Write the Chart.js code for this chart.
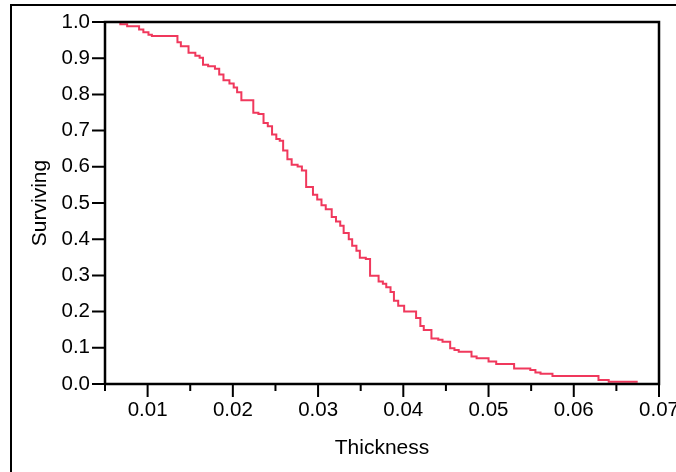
<!DOCTYPE html>
<html><head><meta charset="utf-8">
<script src="https://cdn.jsdelivr.net/npm/chart.js@4/dist/chart.umd.min.js"></script>
<style>html,body{margin:0;padding:0;background:#fff;overflow:hidden;}</style>
</head><body>
<canvas id="c" width="676" height="472"></canvas>
<script>
const thickness = [0.0064, 0.0068, 0.0076, 0.0090, 0.0095, 0.0101, 0.0105, 0.0135, 0.0139, 0.0148,
  0.0156, 0.0161, 0.0165, 0.0171, 0.0179, 0.0184, 0.0189, 0.0196, 0.0201, 0.0205,
  0.0210, 0.0224, 0.0230, 0.0236, 0.0241, 0.0246, 0.0251, 0.0255, 0.0259, 0.0264,
  0.0269, 0.0276, 0.0281, 0.0286, 0.0294, 0.0299, 0.0304, 0.0309, 0.0316, 0.0321,
  0.0326, 0.0330, 0.0336, 0.0340, 0.0345, 0.0349, 0.0356, 0.0361, 0.0371, 0.0376,
  0.0380, 0.0385, 0.0389, 0.0394, 0.0401, 0.0415, 0.0420, 0.0424, 0.0433, 0.0441,
  0.0446, 0.0455, 0.0460, 0.0465, 0.0480, 0.0486, 0.0500, 0.0509, 0.0530, 0.0549,
  0.0555, 0.0561, 0.0575, 0.0629, 0.0641, 0.0675];
const surviving = [1.000, 0.994, 0.988, 0.979, 0.972, 0.965, 0.961, 0.944, 0.933, 0.915,
  0.907, 0.901, 0.882, 0.878, 0.871, 0.855, 0.839, 0.830, 0.819, 0.806,
  0.784, 0.749, 0.746, 0.721, 0.712, 0.689, 0.677, 0.672, 0.645, 0.621,
  0.606, 0.601, 0.590, 0.544, 0.523, 0.510, 0.494, 0.483, 0.461, 0.449,
  0.437, 0.417, 0.400, 0.382, 0.368, 0.349, 0.345, 0.299, 0.283, 0.277,
  0.267, 0.254, 0.230, 0.216, 0.200, 0.182, 0.160, 0.149, 0.126, 0.122,
  0.117, 0.099, 0.094, 0.089, 0.076, 0.071, 0.062, 0.055, 0.043, 0.039,
  0.032, 0.028, 0.022, 0.011, 0.006, 0.006];
const xTickLabels = ['0.01', '0.02', '0.03', '0.04', '0.05', '0.06', '0.07'];
const yTickLabels = ['0.0', '0.1', '0.2', '0.3', '0.4', '0.5', '0.6', '0.7', '0.8', '0.9', '1.0'];
const xTitle = 'Thickness';
const yTitle = 'Surviving';

const FONT = "'Liberation Sans', Arial, sans-serif";

const framePlugin = {
  id: 'frame',
  afterDraw(chart) {
    const {ctx, chartArea: {left, right, top, bottom}, scales: {x, y}} = chart;
    ctx.save();
    ctx.strokeStyle = '#000';
    // outer frame
    ctx.lineWidth = 2;
    ctx.beginPath();
    ctx.moveTo(11, 480); ctx.lineTo(11, 5); ctx.lineTo(680, 5);
    ctx.stroke();
    // plot box
    ctx.lineWidth = 2.5;
    ctx.beginPath();
    ctx.moveTo(left, bottom); ctx.lineTo(left, top); ctx.lineTo(right, top); ctx.lineTo(right, bottom); ctx.lineTo(left, bottom);
    ctx.stroke();
    // ticks
    ctx.lineWidth = 2;
    ctx.beginPath();
    x.ticks.forEach(t => {
      const px = x.getPixelForValue(t.value);
      const major = Math.round(t.value * 1000) % 10 === 0;
      ctx.moveTo(px, bottom); ctx.lineTo(px, bottom + (major ? 13 : 7));
    });
    y.ticks.forEach(t => {
      const py = y.getPixelForValue(t.value);
      ctx.moveTo(left, py); ctx.lineTo(left - 13, py);
    });
    ctx.stroke();
    ctx.restore();
  }
};

new Chart(document.getElementById('c'), {
  type: 'line',
  data: {
    datasets: [{
      data: thickness.map((t, i) => ({x: t, y: surviving[i]})),
      borderColor: '#f0385c',
      borderWidth: 2,
      stepped: true,
      pointRadius: 0,
      fill: false,
      clip: false
    }]
  },
  options: {
    responsive: false,
    animation: false,
    devicePixelRatio: 1,
    layout: {padding: {left: 0, right: 17, top: 22, bottom: 0}},
    plugins: {legend: {display: false}, tooltip: {enabled: false}},
    scales: {
      x: {
        type: 'linear', min: 0.005, max: 0.07,
        afterFit(s) { s.height = 88; s.paddingLeft = 0; s.paddingRight = 0; },
        grid: {display: true, drawOnChartArea: false, tickLength: 13, tickColor: 'transparent'},
        border: {display: false},
        ticks: {
          stepSize: 0.005, autoSkip: false, maxRotation: 0, padding: 1,
          color: '#000', font: {family: FONT, size: 20.5},
          callback: v => {
            const r = Math.round(v * 1000);
            if (r % 10 !== 0) return '';
            return xTickLabels[r / 10 - 1] || '';
          }
        },
        title: {display: true, text: xTitle, color: '#000', font: {family: FONT, size: 21}, padding: {top: 0, bottom: 11}}
      },
      y: {
        type: 'linear', min: 0, max: 1,
        afterFit(s) { s.width = 105; s.paddingTop = 0; s.paddingBottom = 0; },
        grid: {display: true, drawOnChartArea: false, tickLength: 13, tickColor: 'transparent'},
        border: {display: false},
        ticks: {
          stepSize: 0.1, autoSkip: false, padding: 2,
          color: '#000', font: {family: FONT, size: 20.5},
          callback: v => yTickLabels[Math.round(v * 10)]
        },
        title: {display: true, text: yTitle, color: '#000', font: {family: FONT, size: 21}, padding: {top: 28, bottom: 0}}
      }
    }
  },
  plugins: [framePlugin]
});
</script>
</body></html>
